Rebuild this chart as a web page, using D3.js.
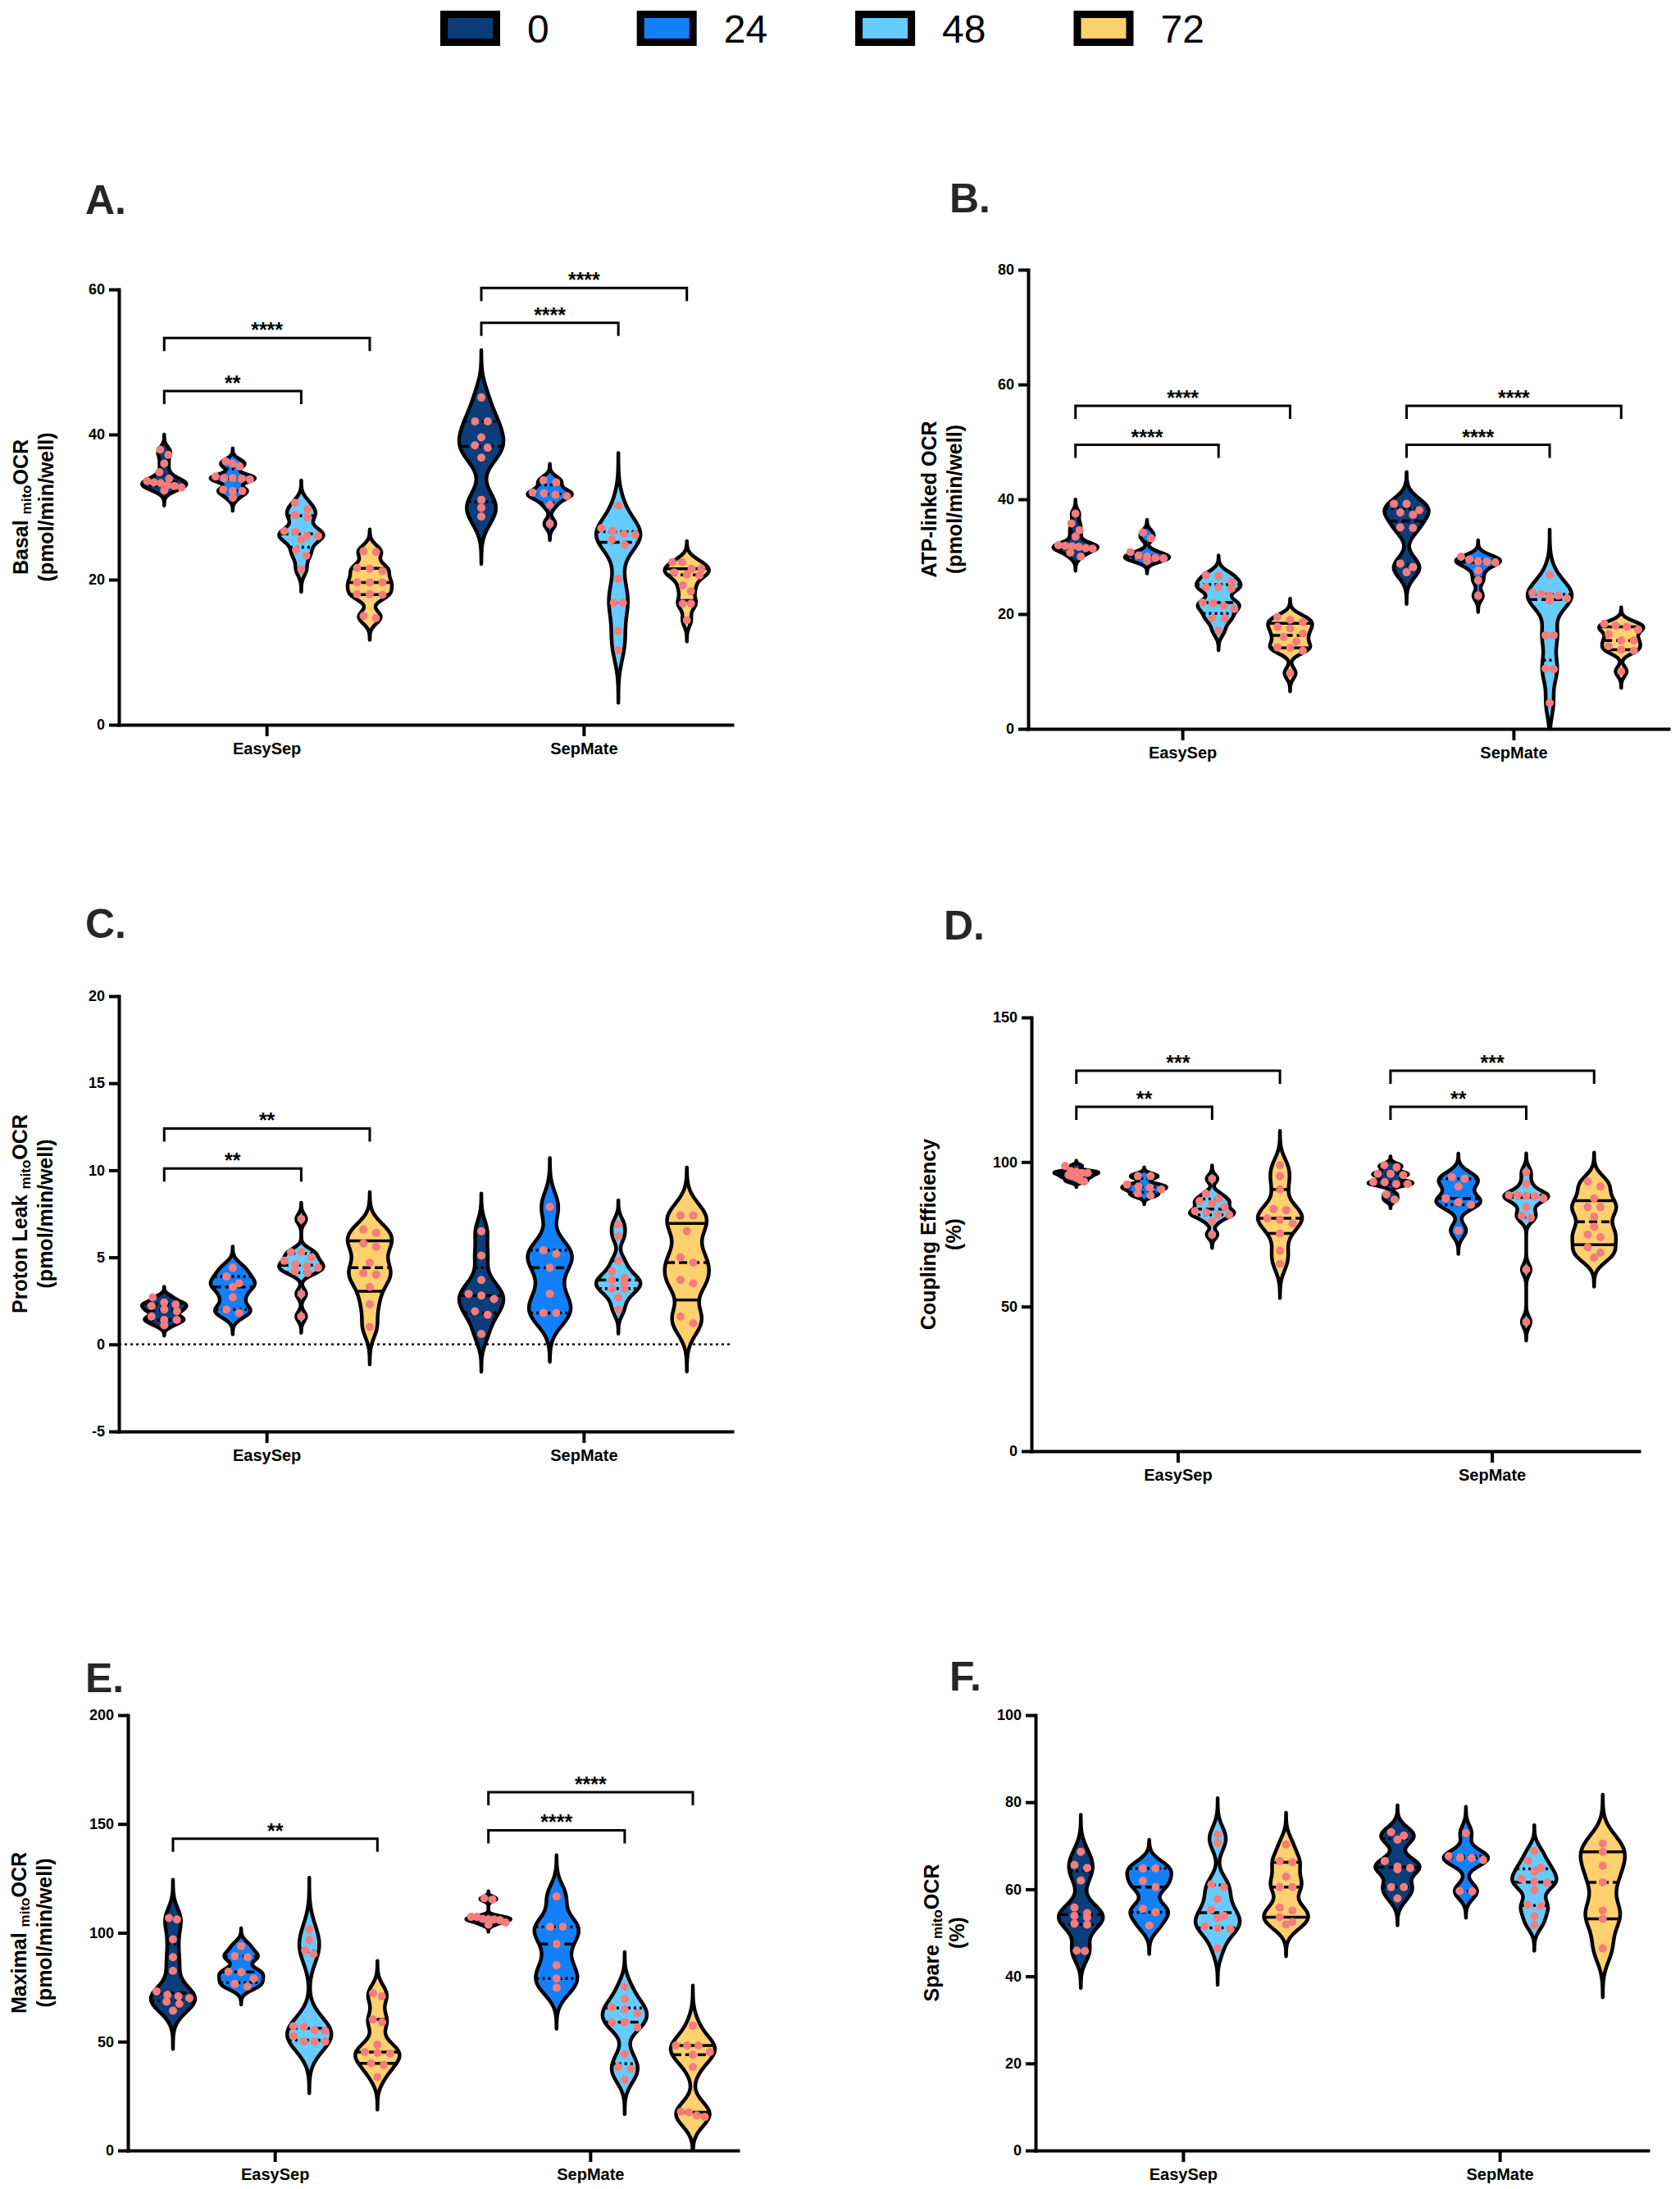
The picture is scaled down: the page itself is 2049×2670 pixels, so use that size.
<!DOCTYPE html>
<html>
<head>
<meta charset="utf-8">
<script src="https://cdn.jsdelivr.net/npm/d3@7"></script>
<style>
  body { margin: 0; background: #fff; }
  svg { display: block; }
</style>
</head>
<body>
<svg id="chart" width="2049" height="2670"></svg>
<script>
const FONT = "'Liberation Sans', Arial, Helvetica, sans-serif";

const groups = ["EasySep", "SepMate"];
const series = ["0", "24", "48", "72"];
const seriesColors = ["#0b3d7a", "#1380fa", "#66ccff", "#ffd06e"];
const pointColor = "#f47c7c";

// A. Basal mito OCR
const basalEasySep = [
  [37.9, 37.2, 36.0, 34.8, 33.9, 33.6, 33.4, 33.3, 33.0, 32.9, 32.7, 32.3],
  [36.3, 36.0, 35.6, 34.2, 34.0, 34.0, 33.9, 33.8, 32.4, 32.2, 32.2, 31.3],
  [30.6, 29.7, 28.9, 28.6, 26.7, 26.6, 26.0, 26.0, 25.5, 24.1, 23.3, 21.4],
  [23.9, 23.8, 21.6, 21.5, 21.2, 19.6, 19.6, 19.6, 18.0, 18.0, 17.9, 15.0, 14.7]
];
const basalSepMate = [
  [45.1, 41.8, 41.8, 39.6, 38.5, 38.2, 36.8, 31.0, 29.9, 28.7],
  [33.7, 33.4, 32.0, 31.9, 31.7, 31.5, 30.3, 27.7],
  [30.2, 27.1, 26.7, 26.3, 26.2, 25.5, 24.8, 20.1, 16.8, 16.8, 12.9, 10.3],
  [22.4, 22.4, 21.5, 21.5, 21.0, 20.7, 20.6, 19.2, 18.4, 16.7, 16.7, 14.4]
];
const basalTicks = [0, 20, 40, 60];
const basalSig = [["EasySep", 0, 2, 46.0, "**"], ["EasySep", 0, 3, 53.3, "****"],
                  ["SepMate", 0, 2, 55.4, "****"], ["SepMate", 0, 3, 60.2, "****"]];

// B. ATP-linked OCR
const atpEasySep = [
  [37.5, 35.8, 34.6, 33.5, 32.0, 31.9, 31.8, 31.7, 31.5, 31.4, 30.7, 30.0],
  [34.2, 33.2, 30.8, 30.2, 30.0, 29.8, 29.7, 29.3],
  [26.8, 26.6, 25.6, 24.7, 24.7, 24.4, 22.0, 21.9, 21.4, 20.9, 19.3, 19.3, 17.1],
  [19.5, 19.0, 18.6, 17.8, 17.5, 16.6, 16.0, 15.2, 14.2, 14.1, 13.6, 9.7]
];
const atpSepMate = [
  [39.2, 39.2, 38.1, 37.7, 37.3, 35.1, 35.0, 28.8, 28.2, 27.3],
  [30.0, 29.5, 29.2, 29.1, 29.0, 27.6, 25.9, 23.2],
  [26.8, 23.7, 23.5, 23.2, 23.2, 22.7, 22.4, 16.3, 16.3, 10.5, 10.4, 4.5],
  [18.3, 18.0, 17.8, 17.3, 16.5, 15.4, 15.4, 14.4, 13.8, 13.6, 10.0]
];
const atpTicks = [0, 20, 40, 60, 80];
const atpSig = [["EasySep", 0, 2, 49.5, "****"], ["EasySep", 0, 3, 56.3, "****"],
                ["SepMate", 0, 2, 49.5, "****"], ["SepMate", 0, 3, 56.3, "****"]];

// C. Proton leak mito OCR
const leakEasySep = [
  [2.7, 2.4, 2.3, 2.2, 2.0, 1.9, 1.6, 1.4, 1.4, 1.1],
  [4.4, 3.9, 3.5, 3.3, 2.7, 2.0, 1.8],
  [7.2, 5.3, 5.3, 5.0, 4.8, 4.6, 4.5, 4.4, 4.2, 4.1, 2.9, 1.6],
  [6.6, 6.4, 5.8, 5.6, 4.7, 4.1, 4.0, 3.3, 2.3, 1.0]
];
const leakSepMate = [
  [6.5, 5.1, 3.7, 2.9, 2.8, 2.6, 1.9, 1.7, 0.6],
  [7.9, 5.4, 5.2, 4.4, 2.9, 1.8, 1.8],
  [6.9, 6.2, 4.8, 4.2, 3.8, 3.7, 3.5, 3.2, 3.2, 2.7, 2.0],
  [7.4, 7.4, 6.5, 5.0, 4.7, 3.7, 3.5, 1.6, 1.2]
];
const leakTicks = [-5, 0, 5, 10, 15, 20];
const leakSig = [["EasySep", 0, 2, 10.1, "**"], ["EasySep", 0, 3, 12.4, "**"]];

// D. Coupling efficiency (%)
const coupEasySep = [
  [98.6, 96.9, 96.6, 96.2, 96.2, 95.5, 95.1, 94.6, 93.8, 93.2],
  [95.1, 95.1, 92.2, 91.5, 91.1, 90.5, 89.1, 88.4],
  [94.2, 89.1, 87.4, 86.5, 85.7, 84.5, 83.0, 82.5, 81.7, 81.7, 79.4, 74.9],
  [98.9, 95.1, 90.5, 83.7, 83.4, 80.5, 80.0, 78.7, 75.3, 69.3, 64.8]
];
const coupSepMate = [
  [98.9, 98.2, 95.9, 95.9, 95.5, 93.1, 93.0, 92.4, 92.4, 88.8, 87.0],
  [94.8, 94.2, 91.5, 87.4, 86.1, 85.2, 76.3],
  [96.5, 92.4, 88.5, 88.5, 88.3, 88.1, 87.4, 84.4, 81.4, 80.7, 62.8, 44.7],
  [93.2, 91.5, 87.4, 84.4, 84.4, 81.1, 77.6, 74.9, 74.0, 70.5, 68.6, 66.9]
];
const coupTicks = [0, 50, 100, 150];
const coupSig = [["EasySep", 0, 2, 119.1, "**"], ["EasySep", 0, 3, 131.6, "***"],
                 ["SepMate", 0, 2, 119.1, "**"], ["SepMate", 0, 3, 131.6, "***"]];

// E. Maximal mito OCR
const maxEasySep = [
  [106.8, 106.1, 97.0, 88.8, 82.5, 73.1, 71.5, 70.8, 70.0, 68.4, 67.4, 64.2],
  [93.9, 89.3, 88.8, 82.1, 81.9, 79.0, 76.5, 75.3],
  [101.6, 96.7, 91.9, 90.2, 57.1, 56.8, 55.4, 55.0, 52.5, 50.0, 50.0, 50.0],
  [72.2, 70.8, 60.2, 58.9, 48.6, 45.2, 44.8, 44.5, 40.0, 39.3, 33.7]
];
const maxSepMate = [
  [115.8, 115.3, 107.3, 107.3, 106.4, 106.1, 106.1, 105.8, 104.7, 103.8],
  [116.7, 102.7, 102.7, 94.8, 85.0, 79.0, 74.8],
  [75.3, 69.6, 65.7, 64.8, 63.1, 58.9, 58.9, 56.5, 44.3, 38.3, 37.5, 32.5],
  [57.3, 48.2, 48.2, 48.2, 45.2, 44.0, 38.3, 17.8, 17.5, 16.1, 15.4]
];
const maxTicks = [0, 50, 100, 150, 200];
const maxSig = [["EasySep", 0, 3, 143.2, "**"],
                ["SepMate", 0, 2, 147.1, "****"], ["SepMate", 0, 3, 164.6, "****"]];

// F. Spare mito OCR (%)
const spareEasySep = [
  [68.6, 65.6, 64.9, 62.0, 55.8, 54.5, 53.9, 53.6, 52.1, 51.9, 45.9, 45.8],
  [64.8, 64.8, 61.9, 60.5, 55.5, 54.7, 51.7],
  [72.6, 70.6, 61.1, 60.5, 57.7, 55.3, 53.9, 53.4, 51.5, 51.0, 50.8, 46.4],
  [70.3, 66.5, 66.2, 62.9, 60.5, 60.5, 55.8, 55.1, 53.6, 52.5, 51.9]
];
const spareSepMate = [
  [73.1, 72.3, 71.4, 66.5, 65.2, 64.9, 64.6, 60.5, 60.5, 57.9],
  [72.9, 67.6, 67.3, 67.2, 66.7, 59.6, 59.5],
  [68.8, 66.5, 64.9, 64.1, 62.4, 61.8, 61.5, 59.8, 56.4, 56.2, 53.8, 51.8],
  [70.5, 68.6, 65.4, 61.6, 55.1, 53.2, 46.4]
];
const spareTicks = [0, 20, 40, 60, 80, 100];
const spareSig = [];

// panel layout
const panels = [
  { label: "A.", easy: basalEasySep, sep: basalSepMate, ticks: basalTicks, sig: basalSig,
    title: [["Basal ", "mito", "OCR"], "(pmol/min/well)"],
    left: 145, right: 893, top: 353, bottom: 884, titleX: 25, labelX: 104, labelY: 261 },
  { label: "B.", easy: atpEasySep, sep: atpSepMate, ticks: atpTicks, sig: atpSig,
    title: [["ATP-linked OCR"], "(pmol/min/well)"],
    left: 1254, right: 2035, top: 329, bottom: 889, titleX: 1133, labelX: 1158, labelY: 259 },
  { label: "C.", easy: leakEasySep, sep: leakSepMate, ticks: leakTicks, sig: leakSig,
    title: [["Proton Leak ", "mito", "OCR"], "(pmol/min/well)"], zeroLine: true,
    left: 145, right: 893, top: 1215, bottom: 1746, titleX: 24, labelX: 104, labelY: 1144 },
  { label: "D.", easy: coupEasySep, sep: coupSepMate, ticks: coupTicks, sig: coupSig,
    title: [["Coupling Efficiency"], "(%)"],
    left: 1258, right: 1999, top: 1241, bottom: 1770, titleX: 1132, labelX: 1151, labelY: 1146 },
  { label: "E.", easy: maxEasySep, sep: maxSepMate, ticks: maxTicks, sig: maxSig,
    title: [["Maximal ", "mito", "OCR"], "(pmol/min/well)"],
    left: 156, right: 900, top: 2092, bottom: 2623, titleX: 23, labelX: 104, labelY: 2064 },
  { label: "F.", easy: spareEasySep, sep: spareSepMate, ticks: spareTicks, sig: spareSig,
    title: [["Spare ", "mito", "OCR"], "(%)"],
    left: 1263, right: 2010, top: 2092, bottom: 2623, titleX: 1136, labelX: 1158, labelY: 2062 }
];

const svg = d3.select("#chart");
const HALF_W = 27;

// Prism-style (n+1) quantile
function quantile(sorted, p) {
  const n = sorted.length, h = (n + 1) * p;
  if (h <= 1) return sorted[0];
  if (h >= n) return sorted[n - 1];
  const lo = Math.floor(h);
  return sorted[lo - 1] + (h - lo) * (sorted[lo] - sorted[lo - 1]);
}

function drawViolin(g, vals, cx, y, si) {
  const sorted = vals.slice().sort(d3.ascending);
  const n = sorted.length;
  const q1 = quantile(sorted, 0.25), med = quantile(sorted, 0.5), q3 = quantile(sorted, 0.75);
  const sd = d3.deviation(sorted);
  const spread = Math.min(sd, (q3 - q1) / 1.34) || sd;
  // narrower than Silverman's rule, tails run out to ~3.5 bandwidths
  const h = 0.55 * spread * Math.pow(n, -0.2);
  const lo = Math.max(sorted[0] - 3.4 * h, y.domain()[0]);
  const hi = sorted[n - 1] + 3.4 * h;
  const dens = v => d3.mean(sorted, d => Math.exp(-0.5 * ((v - d) / h) ** 2));
  const N = 240;
  const grid = d3.range(0, N + 1).map(i => [lo + (hi - lo) * i / N, 0]);
  grid.forEach((d, i) => { d[1] = (i === 0 || i === N) ? 0 : dens(d[0]); });
  const w = d3.scaleLinear().domain([0, d3.max(grid, d => d[1])]).range([0, HALF_W]);

  const area = d3.area()
    .curve(d3.curveBasis)
    .y(d => y(d[0]))
    .x0(d => cx - w(d[1]))
    .x1(d => cx + w(d[1]));

  g.append("path")
    .attr("d", area(grid))
    .attr("fill", seriesColors[si])
    .attr("stroke", "#000")
    .attr("stroke-width", 4.5)
    .attr("stroke-linejoin", "round");

  // quartile and median lines
  const lines = [
    { v: q1, dash: si === 3 ? null : "3,4" },
    { v: q3, dash: si === 3 ? null : "3,4" },
    { v: med, dash: "10,5" }
  ];
  lines.forEach(l => {
    const hw = w(dens(l.v)) - 1;
    g.append("line")
      .attr("x1", cx - hw).attr("x2", cx + hw)
      .attr("y1", y(l.v)).attr("y2", y(l.v))
      .attr("stroke", "#000")
      .attr("stroke-width", 3.5)
      .attr("stroke-dasharray", l.dash);
  });

  // points arranged in rows across the violin
  const pts = sorted.map(v => ({ v, py: y(v) })).sort((a, b) => a.py - b.py);
  const rows = [];
  pts.forEach(p => {
    const row = rows[rows.length - 1];
    if (row && p.py - row[0].py < 9) row.push(p);
    else rows.push([p]);
  });
  rows.forEach(row => {
    const k = row.length;
    const hw = w(dens(d3.mean(row, p => p.v)));
    const step = k > 1 ? Math.min(15.5, Math.max(2 * (hw - 6), 10) / (k - 1)) : 0;
    row.forEach((p, j) => { p.px = cx + (j - (k - 1) / 2) * step; });
  });
  g.selectAll(null)
    .data(pts)
    .join("circle")
    .attr("cx", d => d.px)
    .attr("cy", d => d.py)
    .attr("r", 5)
    .attr("fill", pointColor);
}

function drawPanel(p) {
  const g = svg.append("g");
  const y = d3.scaleLinear()
    .domain([p.ticks[0], p.ticks[p.ticks.length - 1]])
    .range([p.bottom, p.top]);
  const x0 = d3.scaleBand().domain(groups).range([p.left, p.right])
    .paddingInner(0.3).paddingOuter(0.117);
  const x1 = d3.scalePoint().domain(series).range([0, x0.bandwidth()]).padding(0.12);

  if (p.zeroLine) {
    g.append("line")
      .attr("x1", p.left).attr("x2", p.right)
      .attr("y1", y(0)).attr("y2", y(0))
      .attr("stroke", "#000").attr("stroke-width", 2.5)
      .attr("stroke-dasharray", "3,4");
  }

  groups.forEach((grp, gi) => {
    const sets = gi === 0 ? p.easy : p.sep;
    sets.forEach((vals, si) => {
      drawViolin(g, vals, x0(grp) + x1(series[si]), y, si);
    });
  });

  // axes
  const yAxis = g.append("g")
    .attr("transform", `translate(${p.left},0)`)
    .call(d3.axisLeft(y).tickValues(p.ticks).tickFormat(d => String(d))
      .tickSize(12).tickSizeOuter(0).tickPadding(5));
  yAxis.attr("font-family", FONT).attr("font-size", 18).attr("font-weight", "bold");

  const xAxis = g.append("g")
    .attr("transform", `translate(0,${p.bottom})`)
    .call(d3.axisBottom(x0).tickSize(14).tickSizeOuter(0).tickPadding(8));
  xAxis.attr("font-family", FONT).attr("font-size", 20).attr("font-weight", "bold");

  [yAxis, xAxis].forEach(a => {
    a.select(".domain").attr("stroke-width", 4).attr("stroke-linecap", "square");
    a.selectAll(".tick line").attr("stroke-width", 4);
    a.selectAll(".tick text").attr("fill", "#000");
  });

  // significance brackets
  p.sig.forEach(([grp, i, j, v, label]) => {
    const xa = x0(grp) + x1(series[i]), xb = x0(grp) + x1(series[j]);
    const yl = y(v);
    g.append("path")
      .attr("d", `M${xa},${yl + 16}V${yl}H${xb}V${yl + 16}`)
      .attr("fill", "none").attr("stroke", "#000").attr("stroke-width", 3);
    g.append("text")
      .attr("x", (xa + xb) / 2).attr("y", yl - 1)
      .attr("text-anchor", "middle")
      .attr("font-family", FONT).attr("font-size", 25).attr("font-weight", "bold")
      .text(label);
  });

  // y title
  const midY = (p.top + p.bottom) / 2;
  const t1 = g.append("text")
    .attr("transform", `translate(${p.titleX},${midY}) rotate(-90)`)
    .attr("text-anchor", "middle").attr("dominant-baseline", "central")
    .attr("font-family", FONT).attr("font-size", 25).attr("font-weight", "bold");
  const parts = p.title[0];
  t1.append("tspan").text(parts[0]);
  if (parts.length > 1) {
    t1.append("tspan").attr("font-size", 17).attr("dy", 7).text(parts[1]);
    t1.append("tspan").attr("dy", -7).text(parts[2]);
  }
  g.append("text")
    .attr("transform", `translate(${p.titleX + 31},${midY}) rotate(-90)`)
    .attr("text-anchor", "middle").attr("dominant-baseline", "central")
    .attr("font-family", FONT).attr("font-size", 25).attr("font-weight", "bold")
    .text(p.title[1]);

  // panel letter
  g.append("text")
    .attr("x", p.labelX).attr("y", p.labelY)
    .attr("font-family", FONT).attr("font-size", 50).attr("font-weight", "bold")
    .attr("fill", "#262626")
    .text(p.label);
}

panels.forEach(drawPanel);

// legend
const legend = svg.append("g").attr("transform", "translate(537,13)");
let lx = 0;
series.forEach((s, i) => {
  const item = legend.append("g").attr("transform", `translate(${lx},0)`);
  item.append("rect").attr("width", 73).attr("height", 43).attr("fill", "#000");
  item.append("rect").attr("x", 9).attr("y", 9).attr("width", 55).attr("height", 25)
    .attr("fill", seriesColors[i]);
  const txt = item.append("text")
    .attr("x", 106).attr("y", 39)
    .attr("font-family", FONT).attr("font-size", 48)
    .text(s);
  lx += 106 + txt.node().getComputedTextLength() + 107;
});
</script>
</body>
</html>
